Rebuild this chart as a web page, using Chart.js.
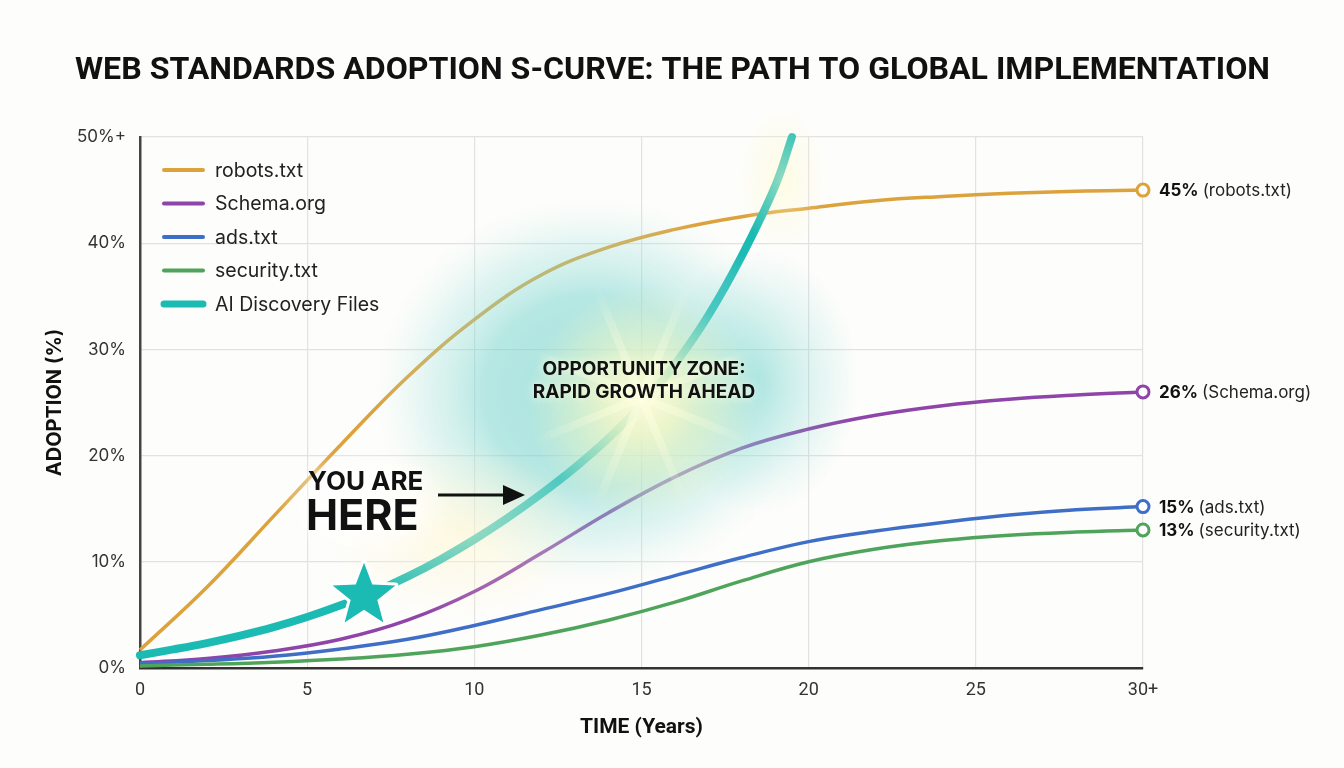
<!DOCTYPE html>
<html>
<head>
<meta charset="utf-8">
<style>
  html, body { margin: 0; padding: 0; background: #fdfdfb; }
  #wrap { width: 1344px; height: 768px; }
</style>
<script src="https://cdn.jsdelivr.net/npm/chart.js@4.4.1/dist/chart.umd.min.js"></script>
</head>
<body>
<div id="wrap"><canvas id="chart" width="1344" height="768"></canvas></div>
<script>
// ---------------- DATA -----------------
const YEARS = [0, 2, 4, 6, 8, 10, 12, 14, 16, 18, 20, 22, 24, 26, 28, 30];
const ROBOTS = [1.7, 7.6, 14.3, 21.0, 27.4, 32.8, 37.0, 39.6, 41.3, 42.5, 43.3, 44.0, 44.4, 44.7, 44.9, 45.0];
const SCHEMA = [0.5, 0.9, 1.6, 2.7, 4.5, 7.2, 10.8, 14.6, 18.0, 20.7, 22.5, 23.8, 24.7, 25.3, 25.7, 26.0];
const ADS = [0.4, 0.7, 1.1, 1.8, 2.7, 4.0, 5.5, 7.0, 8.7, 10.4, 11.9, 12.9, 13.7, 14.4, 14.9, 15.2];
const SECURITY = [0.2, 0.35, 0.55, 0.85, 1.3, 2.0, 3.1, 4.5, 6.2, 8.2, 10.0, 11.2, 12.0, 12.5, 12.8, 13.0];

const AI_YEARS = [0, 1, 2, 3, 4, 5, 6, 7, 8, 9, 10, 11, 12, 13, 14, 15, 16, 17, 18, 19, 19.5];
const AI_FILES = [1.2, 1.75, 2.35, 3.05, 3.85, 4.8, 5.9, 7.15, 8.6, 10.25, 12.1, 14.15, 16.4, 18.85, 21.6, 24.8, 28.6, 33.2, 38.8, 45.4, 50];

const SERIES_LABELS = ["robots.txt", "Schema.org", "ads.txt", "security.txt", "AI Discovery Files"];
const END_LABELS = ["45%", "26%", "15%", "13%"];

const X_TICKS = [0, 5, 10, 15, 20, 25, 30];
const Y_TICKS = [0, 10, 20, 30, 40, 50];

const YOU_ARE_HERE = { x: 6.7, y: 6.8 };

const COLORS = ["#dca23c", "#8e44a8", "#3f6ec6", "#4fa45c", "#1bbab3"];

const toPoints = (xs, ys) => xs.map((x, i) => ({ x, y: ys[i] }));

// ---------------- HELPERS -----------------
const radial = (ctx, x, y, r, stops, sx = 1, sy = 1) => {
    ctx.save();
    ctx.translate(x, y);
    ctx.scale(sx, sy);
    const g = ctx.createRadialGradient(0, 0, 0, 0, 0, r);
    stops.forEach(([o, c]) => g.addColorStop(o, c));
    ctx.fillStyle = g;
    ctx.beginPath();
    ctx.arc(0, 0, r, 0, Math.PI * 2);
    ctx.fill();
    ctx.restore();
};

const drawStar = (ctx, cx, cy, R, r) => {
    ctx.beginPath();
    for (let i = 0; i < 10; i++) {
        const rad = i % 2 === 0 ? R : r;
        const a = -Math.PI / 2 + (i * Math.PI) / 5;
        const px = cx + rad * Math.cos(a);
        const py = cy + rad * Math.sin(a);
        i === 0 ? ctx.moveTo(px, py) : ctx.lineTo(px, py);
    }
    ctx.closePath();
};

// ---------------- PLUGINS -----------------
const glowPlugin = {
    id: "glow",
    afterDatasetsDraw(chart) {
        const { ctx, scales: { x, y } } = chart;
        // teal haze, two lobes
        radial(ctx, x.getPixelForValue(13.5), y.getPixelForValue(26), 215, [
            [0, "rgba(110,210,204,0.62)"],
            [0.5, "rgba(118,212,206,0.52)"],
            [0.8, "rgba(160,226,220,0.24)"],
            [1, "rgba(200,240,235,0)"],
        ], 1.0, 0.9);
        radial(ctx, x.getPixelForValue(18.5), y.getPixelForValue(27), 110, [
            [0, "rgba(110,210,204,0.45)"],
            [1, "rgba(110,210,204,0)"],
        ], 0.9, 1.2);
        // warm core
        radial(ctx, x.getPixelForValue(15), y.getPixelForValue(25), 115, [
            [0, "rgba(255,253,220,0.97)"],
            [0.3, "rgba(252,249,195,0.75)"],
            [1, "rgba(245,245,190,0)"],
        ]);
        // light near top of the curve
        radial(ctx, x.getPixelForValue(19.2), y.getPixelForValue(46), 55, [
            [0, "rgba(255,250,205,0.5)"],
            [1, "rgba(255,250,205,0)"],
        ], 0.8, 1.3);
        // soft warm light around the marker
        radial(ctx, x.getPixelForValue(9.5), y.getPixelForValue(13), 110, [
            [0, "rgba(255,246,205,0.55)"],
            [1, "rgba(255,246,205,0)"],
        ], 1.2, 0.8);
        // white halo behind the "you are here" text
        radial(ctx, 365, 505, 80, [
            [0, "rgba(255,255,255,0.8)"],
            [0.6, "rgba(255,255,255,0.5)"],
            [1, "rgba(255,255,255,0)"],
        ], 1.1, 0.7);
        // faint rays
        const rx = x.getPixelForValue(15), ry = y.getPixelForValue(25.5);
        for (let i = 0; i < 8; i++) {
            const a = (i * Math.PI) / 4 + Math.PI / 8;
            const ex = rx + Math.cos(a) * 120, ey = ry + Math.sin(a) * 120;
            const g = ctx.createLinearGradient(rx, ry, ex, ey);
            g.addColorStop(0, "rgba(255,255,225,0.55)");
            g.addColorStop(1, "rgba(255,255,225,0)");
            ctx.strokeStyle = g;
            ctx.lineWidth = 8;
            ctx.beginPath();
            ctx.moveTo(rx, ry);
            ctx.lineTo(ex, ey);
            ctx.stroke();
        }
    },
};

const annotationsPlugin = {
    id: "annotations",
    afterDraw(chart) {
        const { ctx, scales: { x, y } } = chart;
        ctx.save();

        // --- Title ---
        ctx.fillStyle = "#111";
        ctx.font = "bold 32px Roboto";
        ctx.textBaseline = "alphabetic";
        ctx.textAlign = "left";
        const title = "WEB STANDARDS ADOPTION S-CURVE: THE PATH TO GLOBAL IMPLEMENTATION";
        const tw = ctx.measureText(title).width;
        ctx.save();
        ctx.translate(75, 79);
        ctx.scale(1195 / tw, 1);
        ctx.fillText(title, 0, 0);
        ctx.restore();

        // --- Star marker ---
        const sx = x.getPixelForValue(YOU_ARE_HERE.x);
        const sy = y.getPixelForValue(YOU_ARE_HERE.y);
        drawStar(ctx, sx, sy, 33, 14);
        ctx.lineJoin = "round";
        ctx.lineWidth = 6;
        ctx.strokeStyle = "#ffffff";
        ctx.stroke();
        ctx.fillStyle = COLORS[4];
        ctx.fill();

        // --- YOU ARE HERE ---
        ctx.shadowColor = "rgba(255,255,255,0.95)";
        ctx.shadowBlur = 12;
        ctx.fillStyle = "#111";
        ctx.textAlign = "left";
        ctx.font = "bold 26px Inter";
        ctx.fillText("YOU ARE", 308, 490);
        ctx.font = "bold 43px Inter";
        ctx.fillText("HERE", 306, 530);
        ctx.shadowBlur = 0;

        // arrow
        ctx.strokeStyle = "#111";
        ctx.lineWidth = 3;
        ctx.beginPath();
        ctx.moveTo(438, 495);
        ctx.lineTo(510, 495);
        ctx.stroke();
        ctx.beginPath();
        ctx.moveTo(525, 495);
        ctx.lineTo(503, 485);
        ctx.lineTo(503, 505);
        ctx.closePath();
        ctx.fill();

        // --- Opportunity zone ---
        ctx.shadowColor = "rgba(255,255,230,0.9)";
        ctx.shadowBlur = 8;
        ctx.textAlign = "center";
        ctx.font = "bold 19px Inter";
        ctx.fillText("OPPORTUNITY ZONE:", 644, 375);
        ctx.fillText("RAPID GROWTH AHEAD", 644, 398);
        ctx.shadowBlur = 0;

        // --- Legend ---
        ctx.textAlign = "left";
        ctx.textBaseline = "middle";
        ctx.font = "19.5px Inter";
        SERIES_LABELS.forEach((label, i) => {
            const ly = 170 + i * 33.5;
            ctx.strokeStyle = COLORS[i];
            ctx.lineCap = "round";
            ctx.lineWidth = i === 4 ? 7 : 4;
            ctx.beginPath();
            ctx.moveTo(164, ly);
            ctx.lineTo(203, ly);
            ctx.stroke();
            ctx.fillStyle = "#222";
            ctx.fillText(label, 215, ly + 1);
        });

        // --- End labels ---
        END_LABELS.forEach((pct, i) => {
            const meta = chart.getDatasetMeta(i);
            const pt = meta.data[meta.data.length - 1];
            ctx.font = "bold 17px Inter";
            ctx.fillStyle = "#111";
            ctx.fillText(pct, 1159, pt.y + 1);
            const w = ctx.measureText(pct + " ").width;
            ctx.font = "17px Inter";
            ctx.fillStyle = "#222";
            ctx.fillText("(" + SERIES_LABELS[i] + ")", 1159 + w, pt.y + 1);
        });

        ctx.restore();
    },
};

// ---------------- CHART -----------------
const lastOnly = (n) => (c) => (c.dataIndex === n - 1 ? 6 : 0);

const baseSeries = [ROBOTS, SCHEMA, ADS, SECURITY].map((vals, i) => ({
    label: SERIES_LABELS[i],
    data: toPoints(YEARS, vals),
    borderColor: COLORS[i],
    backgroundColor: "#ffffff",
    borderWidth: 3.5,
    pointRadius: lastOnly(vals.length),
    pointBorderWidth: 3,
    pointBorderColor: COLORS[i],
    pointBackgroundColor: "#ffffff",
    tension: 0.4,
    fill: false,
    order: 5 - i,
}));

const aiSeries = {
    label: SERIES_LABELS[4],
    data: toPoints(AI_YEARS, AI_FILES),
    borderColor: COLORS[4],
    borderWidth: 8,
    borderCapStyle: "round",
    pointRadius: 0,
    tension: 0.4,
    fill: false,
    order: 0,
};

new Chart(document.getElementById("chart"), {
    type: "line",
    data: { datasets: [...baseSeries, aiSeries] },
    options: {
        responsive: false,
        animation: false,
        events: [],
        clip: false,
        layout: { padding: { top: 137, right: 201, left: 0, bottom: 0 } },
        plugins: {
            legend: { display: false },
            tooltip: { enabled: false },
            title: { display: false },
        },
        scales: {
            x: {
                type: "linear",
                min: 0,
                max: 30,
                afterFit: (s) => { s.height = 100; },
                afterBuildTicks: (s) => { s.ticks = X_TICKS.map((v) => ({ value: v })); },
                ticks: {
                    padding: 12,
                    color: "#333",
                    font: { family: "Roboto", size: 18 },
                    callback: (v) => (v === 30 ? "30+" : String(v)),
                },
                grid: { color: "#e2e2e2", lineWidth: 1.2, drawTicks: false },
                border: { color: "#333", width: 2.5 },
                title: {
                    display: true,
                    text: "TIME (Years)",
                    color: "#111",
                    font: { family: "Roboto", size: 21, weight: "bold" },
                    padding: { top: 0, bottom: 28 },
                },
            },
            y: {
                type: "linear",
                min: 0,
                max: 50,
                afterFit: (s) => { s.width = 140; },
                afterBuildTicks: (s) => { s.ticks = Y_TICKS.map((v) => ({ value: v })); },
                ticks: {
                    padding: 14,
                    color: "#333",
                    font: { family: "Inter", size: 17 },
                    callback: (v) => (v === 50 ? "50%+" : v + "%"),
                },
                grid: { color: "#e2e2e2", lineWidth: 1.2, drawTicks: false },
                border: { color: "#444", width: 2.5 },
                title: {
                    display: true,
                    text: "ADOPTION (%)",
                    color: "#111",
                    font: { family: "Inter", size: 20, weight: "bold" },
                    padding: { top: 43, bottom: 0 },
                },
            },
        },
    },
    plugins: [glowPlugin, annotationsPlugin],
});
</script>
</body>
</html>
